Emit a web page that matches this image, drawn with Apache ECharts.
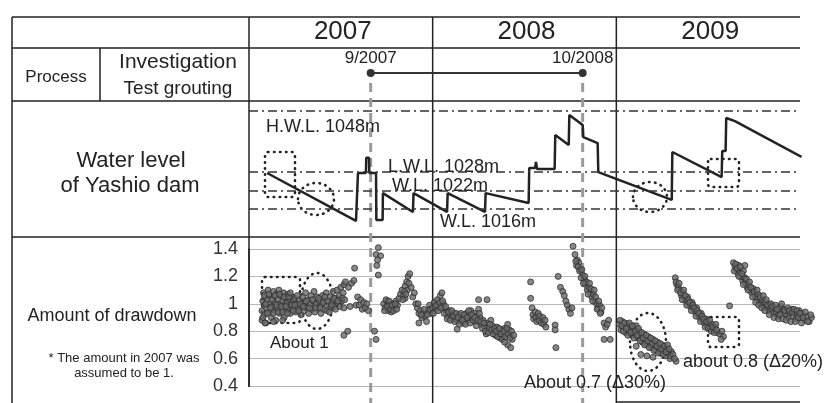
<!DOCTYPE html>
<html><head><meta charset="utf-8">
<script src="https://cdn.jsdelivr.net/npm/echarts@6/dist/echarts.min.js"></script>
<style>html,body{margin:0;padding:0;background:#fff}#c{width:833px;height:403px}</style>
</head><body><div id="c"></div>
<script>
// ---- data ----
const years = ['2007', '2008', '2009'];
const yearStartMonths = [0, 12, 24, 36];           // months since Jan 2007
const processMonths = [7.95, 21.8];                 // 9/2007 and 10/2008
const processLabels = ['9/2007', '10/2008'];
const refLevels = [1048, 1028, 1022, 1016];
const refLabels = ['H.W.L. 1048m', 'L.W.L. 1028m', 'W.L. 1022m', 'W.L. 1016m'];
const ddTicks = ['0.4', '0.6', '0.8', '1', '1.2', '1.4'];

// water level of Yashio dam [month, m]
const waterLevel = [[1.18,1027.7],[6.99,1012.2],[7.12,1027.7],[7.64,1027.7],[7.66,1032.6],[7.84,1032.6],[7.86,1027.7],[8.3,1027.7],[8.32,1012.5],[8.73,1012.5],[8.75,1021.2],[10.71,1015.1],[10.75,1021.2],[12.94,1015.1],[12.98,1021.2],[15.42,1015.1],[15.46,1021.2],[18.27,1018.0],[18.31,1029.3],[18.69,1029.3],[18.75,1031.3],[18.82,1029.0],[19.97,1029.0],[20.01,1040.0],[20.89,1036.8],[20.93,1046.5],[21.8,1043.2],[21.84,1039.3],[22.78,1037.4],[22.82,1028.0],[27.62,1019.0],[27.66,1034.5],[30.88,1026.4],[30.92,1034.8],[31.14,1034.8],[31.18,1045.5],[31.75,1044.5],[36.1,1032.9]];

// amount of drawdown [month, ratio]
const dd2007a = [[0.85,0.88],[0.85,0.95],[0.9,1.02],[0.95,1.08],[1.0,0.92],[1.0,0.99],[1.05,1.05],[1.1,0.86],[1.15,0.97],[1.2,1.03],[1.25,1.1],[1.3,0.94],[1.35,1.0],[1.4,1.06],[1.45,0.9],[1.5,0.98],[1.55,1.04],[1.6,1.09],[1.65,0.95],[1.7,1.01],[1.75,0.88],[1.8,1.07],[1.85,0.97],[1.9,1.03],[1.95,1.1],[2.0,0.93],[2.05,1.0],[2.1,1.06],[2.15,0.96],[2.2,1.02],[2.25,1.08],[2.3,0.9],[2.35,0.99],[2.4,1.04],[2.45,0.95],[2.5,1.01],[2.55,1.07],[2.6,0.97],[2.65,1.03],[2.7,0.93],[2.75,1.0],[2.8,1.05],[2.85,0.96],[2.9,1.02],[2.95,0.98],[3.0,1.04],[3.05,0.94],[3.1,1.0],[3.2,0.97],[3.3,1.03],[3.4,0.92],[3.45,0.99],[3.5,1.05],[3.6,0.95],[3.65,1.01],[3.7,1.08],[3.8,0.97],[3.85,1.03],[3.9,0.93],[4.0,1.0],[4.05,1.06],[4.1,0.96],[4.2,1.02],[4.25,1.09],[4.3,0.94],[4.4,1.0],[4.45,1.05],[4.5,0.97],[4.6,1.02],[4.7,0.93],[4.75,0.99],[4.8,1.06],[4.9,0.96],[5.0,1.02],[5.05,1.08],[5.1,0.95],[5.2,1.0],[5.3,1.05],[5.35,0.97],[5.45,1.02],[5.5,1.09],[5.6,0.98],[5.7,1.04],[5.75,1.1],[5.85,1.0],[5.9,1.06],[6.0,1.12],[6.05,1.02],[6.15,1.08],[6.2,1.14],[6.3,1.16],
  [0.9,0.9],[1.0,1.06],[1.1,1.0],[1.2,0.93],[1.3,1.07],[1.4,0.97],[1.5,1.03],[1.6,0.93],[1.7,1.06],[1.8,0.99],[1.9,0.94],[2.0,1.07],[2.1,0.98],[2.2,0.94],[2.3,1.05],[2.4,0.98],[2.5,0.93],[2.6,1.05],[2.7,1.08],[2.8,0.99],[2.9,0.95],[3.0,0.99],[3.15,1.06],[3.25,0.95],[3.35,1.0],[3.55,0.98],[3.75,1.02],[3.95,0.97],[4.15,1.03],[4.35,0.97],[4.55,1.04],[4.65,0.97],[4.85,1.01],[4.95,1.05],[5.15,1.02],[5.25,0.94],[5.4,0.99],[5.55,1.04],[5.65,0.96],[5.8,1.02],[5.95,0.98],[6.1,1.04],[6.25,1.03],[1.05,0.86],[1.6,0.87],[2.2,0.88]];
const dd2007b = [[6.2,0.97],[6.6,0.98],[7.0,0.99],[6.9,1.26],[6.2,0.77],[6.45,0.8],[6.5,1.12],[6.7,1.15],[6.85,1.17],[7.1,1.05],[7.2,0.99],[7.3,1.03],[7.4,0.96],[7.5,1.01],[7.6,0.97],[7.7,1.0],[7.8,0.95],[8.45,1.41],[8.3,1.36],[8.6,1.35],[8.4,1.32],[8.35,1.28],[8.45,1.21],[8.2,0.8],[8.3,0.74],[8.8,1.0],[8.9,0.97],[9.0,1.02],[9.1,0.95],[9.2,0.99],[9.3,0.94],[9.4,1.0],[9.5,0.97],[9.6,1.02],[9.7,0.99],[9.8,1.04],[9.9,1.07],[10.0,1.1],[10.1,1.06],[10.2,1.13],[10.3,1.16],[10.4,1.2],[10.5,1.22],[10.35,1.1],[10.2,1.04],[10.6,1.12],[10.7,1.05],[10.8,1.08],[10.9,1.0],[11.0,0.97],[11.1,0.93],[11.2,0.95],[11.3,0.9],[11.4,0.93],[11.5,0.91],[11.1,0.86],[11.6,0.87],[11.7,0.95],[11.8,0.99],[11.9,0.93],
  [8.85,0.95],[8.95,1.03],[9.05,0.98],[9.15,1.02],[9.25,0.96],[9.35,0.99],[9.45,0.95],[9.55,1.0],[9.65,0.96],[10.05,1.03],[10.15,1.09],[10.25,1.07],[10.45,1.15],[11.05,1.0],[11.25,0.92],[11.45,0.96],[11.65,0.92],[11.85,0.96]];
const dd2008a = [[12.0,0.97],[12.1,1.01],[12.2,0.96],[12.3,1.03],[12.4,0.98],[12.5,1.06],[12.6,1.08],[12.7,1.0],[12.8,0.96],[12.9,0.94],[13.0,0.91],[13.1,0.95],[13.2,0.92],[13.3,0.89],[13.4,0.93],[13.5,0.9],[13.6,0.88],[13.7,0.92],[13.8,0.87],[13.9,0.9],[14.0,0.86],[14.1,0.89],[14.2,0.93],[14.3,0.88],[14.4,0.91],[13.6,0.815],[15.0,1.03],[15.55,1.03],[14.5,0.95],[14.6,0.9],[14.7,0.93],[14.8,0.87],[14.9,0.91],[15.0,0.96],[15.1,0.9],[15.2,0.85],[15.3,0.88],[15.4,0.83],[15.5,0.78],[15.6,0.86],[15.7,0.82],[15.8,0.88],[15.9,0.84],[16.0,0.8],[16.1,0.77],[16.2,0.83],[16.3,0.79],[16.4,0.75],[16.5,0.81],[16.6,0.77],[16.7,0.82],[16.8,0.79],[16.9,0.85],[17.0,0.81],[17.1,0.77],[17.2,0.74],
  [12.05,0.93],[12.15,0.98],[12.25,0.99],[12.35,0.95],[12.45,1.01],[12.55,0.97],[12.65,1.02],[12.75,0.93],[12.85,0.98],[12.95,0.89],[13.05,0.94],[13.15,0.88],[13.25,0.95],[13.35,0.91],[13.45,0.87],[13.55,0.93],[13.65,0.9],[13.75,0.85],[13.85,0.93],[13.95,0.88],[14.05,0.92],[14.15,0.85],[14.25,0.9],[14.35,0.95],[14.45,0.86],[14.55,0.92],[14.65,0.88],[14.75,0.9],[14.85,0.84],[14.95,0.88],[15.05,0.93],[15.15,0.87],[15.25,0.82],[15.35,0.86],[15.45,0.8],[15.65,0.79],[15.75,0.85],[15.85,0.81],[15.95,0.78],[16.05,0.82],[16.15,0.8],[16.25,0.76],[16.35,0.82],[16.45,0.78],[16.55,0.74],[16.65,0.8],[16.75,0.76],[16.85,0.82],[16.95,0.78],[17.05,0.75],[17.15,0.8],[16.9,0.7],[17.1,0.68],[16.7,0.72],[17.3,0.77]];
const dd2008b = [[18.4,1.16],[18.4,1.04],[18.5,0.97],[18.55,0.92],[18.6,0.89],[18.7,0.94],[18.75,0.9],[18.8,0.87],[18.9,0.93],[18.95,0.88],[19.0,0.91],[19.1,0.86],[19.2,0.9],[19.25,0.85],[19.35,0.88],[19.4,0.83],[20.0,0.845],[20.0,0.81],[20.05,0.68],[20.2,1.2],[20.35,1.12],[20.5,1.09],[20.6,1.06],[20.7,1.02],[20.8,0.99],[20.9,0.96],[21.0,0.93],[21.1,0.97],[21.17,1.42],[21.3,1.36],[21.45,1.32],[21.55,1.3],[21.65,1.25],[21.8,1.21],[21.9,1.18],[22.0,1.14],[22.1,1.1],[22.2,1.12],[22.3,1.08],[22.4,1.05],[22.5,1.07],[22.6,1.02],[22.7,1.0],[22.8,0.97],[22.9,0.99],[23.0,0.94],[21.4,1.28],[21.7,1.19],[22.05,1.16],[22.35,1.11],[23.2,0.86],[23.3,0.83],[23.5,0.88],[23.4,0.85],[23.2,0.74],[23.6,0.74],
  [21.35,1.31],[21.5,1.27],[21.6,1.24],[21.75,1.25],[21.85,1.15],[21.95,1.2],[22.15,1.07],[22.25,1.15],[22.45,1.02],[22.55,1.1],[22.65,1.05],[22.75,0.96],[22.85,1.02],[22.95,0.93],[23.05,0.97]];
const dd2009a = [[24.2,0.85],[24.3,0.81],[24.4,0.87],[24.5,0.83],[24.6,0.79],[24.7,0.85],[24.8,0.8],[24.9,0.83],[25.0,0.77],[25.1,0.82],[25.2,0.78],[25.3,0.84],[25.4,0.75],[25.5,0.8],[25.6,0.77],[25.7,0.72],[25.8,0.78],[25.9,0.74],[26.0,0.7],[26.1,0.76],[26.2,0.72],[26.3,0.68],[26.4,0.74],[26.5,0.7],[26.6,0.66],[26.7,0.72],[26.8,0.68],[26.9,0.64],[27.0,0.7],[27.1,0.66],[27.2,0.62],[27.3,0.67],[27.4,0.64],[27.5,0.6],[27.6,0.65],[27.9,0.58],[25.3,0.69],[25.6,0.63],[26.0,0.62],[26.4,0.61],
  [24.25,0.88],[24.35,0.84],[24.45,0.8],[24.55,0.86],[24.65,0.82],[24.75,0.77],[24.85,0.86],[24.95,0.79],[25.05,0.84],[25.15,0.75],[25.25,0.8],[25.35,0.77],[25.45,0.82],[25.55,0.73],[25.65,0.79],[25.75,0.75],[25.85,0.7],[25.95,0.77],[26.05,0.73],[26.15,0.68],[26.25,0.75],[26.35,0.71],[26.45,0.66],[26.55,0.73],[26.65,0.69],[26.75,0.64],[26.85,0.71],[26.95,0.67],[27.05,0.63],[27.15,0.69],[27.25,0.65],[27.35,0.7],[27.45,0.67],[27.55,0.62],[27.7,0.63],[27.8,0.6]];
const dd2009b = [[27.85,1.19],[27.95,1.14],[28.05,1.12],[28.15,1.1],[28.25,1.06],[28.35,1.08],[28.45,1.04],[28.55,1.02],[28.65,1.05],[28.75,1.0],[28.85,0.98],[28.95,1.01],[29.05,0.96],[29.15,0.94],[29.25,0.97],[29.35,0.92],[29.45,0.9],[29.55,0.93],[29.65,0.88],[29.75,0.86],[29.85,0.89],[29.95,0.84],[30.05,0.86],[30.15,0.82],[30.25,0.85],[30.35,0.81],[30.45,0.83],[30.6,0.79],[30.75,0.78],[30.9,0.8],[31.0,0.76],[30.85,0.74],[31.4,0.985],
  [27.9,1.16],[28.0,1.1],[28.1,1.15],[28.2,1.08],[28.3,1.03],[28.4,1.1],[28.5,1.06],[28.6,0.99],[28.7,1.03],[28.8,1.01],[28.9,0.95],[29.0,0.99],[29.1,0.97],[29.2,0.91],[29.3,0.95],[29.4,0.93],[29.5,0.87],[29.6,0.91],[29.7,0.89],[29.8,0.83],[29.9,0.87],[30.0,0.82],[30.1,0.88],[30.2,0.8],[30.3,0.83],[30.4,0.79],[30.5,0.85],[30.55,0.81]];
const dd2009c = [[31.65,1.3],[31.75,1.27],[31.85,1.25],[31.95,1.22],[32.05,1.24],[32.15,1.2],[32.25,1.17],[32.35,1.19],[32.45,1.15],[32.55,1.12],[32.65,1.14],[32.75,1.1],[32.85,1.08],[32.95,1.11],[33.05,1.06],[33.15,1.04],[33.25,1.07],[33.35,1.02],[33.45,1.0],[33.55,1.03],[33.65,0.98],[33.75,1.01],[33.85,0.97],[33.95,0.95],[34.05,0.99],[34.15,0.96],[34.25,0.93],[34.35,0.97],[34.45,0.94],[34.55,0.91],[34.65,0.95],[34.75,0.98],[34.85,0.93],[34.95,0.96],[35.05,0.92],[35.15,0.95],[35.25,0.9],[35.35,0.93],[35.45,0.96],[35.55,0.91],[35.65,0.94],[35.75,0.89],[35.85,0.92],[35.95,0.95],[36.05,0.9],[36.15,0.93],[36.3,0.88],[36.45,0.91],[36.6,0.87],[36.75,0.9],[32.0,1.28],[32.3,1.24],[32.4,1.28],[32.4,1.19],
  [31.7,1.24],[31.8,1.29],[31.9,1.26],[32.0,1.2],[32.1,1.27],[32.2,1.22],[32.3,1.14],[32.5,1.18],[32.6,1.1],[32.7,1.16],[32.8,1.12],[32.9,1.05],[33.0,1.09],[33.1,1.01],[33.2,1.1],[33.3,0.99],[33.4,1.05],[33.5,0.97],[33.6,1.06],[33.7,0.95],[33.8,1.03],[33.9,0.99],[34.0,0.92],[34.1,1.0],[34.2,0.98],[34.3,0.9],[34.4,0.99],[34.5,0.96],[34.6,0.89],[34.7,0.92],[34.8,1.0],[34.9,0.89],[35.0,0.95],[35.1,0.88],[35.2,0.97],[35.3,0.95],[35.4,0.87],[35.5,0.94],[35.6,0.96],[35.7,0.87],[35.8,0.95],[35.9,0.9],[36.0,0.93],[36.1,0.86],[36.2,0.9],[36.35,0.94],[36.5,0.87],[36.7,0.92]];

// ---- chart ----
const FONT = '"Liberation Sans", Arial, sans-serif';
const INK = '#222';
const chart = echarts.init(document.getElementById('c'), null, {renderer: 'canvas'});
const GL = 249, GW = 551;
const hiddenX = i => ({type: 'value', gridIndex: i, min: 0, max: 36, show: false, splitLine: {show: false}});
const scatterStyle = {color: '#6a6a6a', borderColor: '#2e2e2e', borderWidth: 1};
const ddSeries = [dd2007a, dd2007b, dd2008a, dd2008b, dd2009a, dd2009b, dd2009c].map(d => ({
  type: 'scatter', xAxisIndex: 2, yAxisIndex: 2, data: d, symbolSize: 6, clip: false,
  itemStyle: scatterStyle, z: 3
}));

chart.setOption({
  animation: false,
  backgroundColor: '#fff',
  textStyle: {fontFamily: FONT},
  grid: [
    {left: GL, width: GW, top: 48, height: 53},
    {left: GL, width: GW, top: 101, height: 136},
    {left: GL, width: GW, top: 249, height: 137}
  ],
  xAxis: [hiddenX(0), hiddenX(1), hiddenX(2)],
  yAxis: [
    {type: 'value', gridIndex: 0, min: 0, max: 1, show: false},
    {type: 'value', gridIndex: 1, min: 1007, max: 1051, show: false},
    {type: 'value', gridIndex: 2, min: 0.4, max: 1.4, interval: 0.2,
      axisLine: {show: true, lineStyle: {color: INK, width: 1.5}},
      axisTick: {show: false},
      axisLabel: {fontSize: 18, color: '#333', margin: 11, fontFamily: FONT,
        formatter: (v) => ddTicks[Math.round((v - 0.4) / 0.2)]},
      splitLine: {lineStyle: {color: '#b8b8b8', width: 1}}}
  ],
  series: [
    {type: 'line', xAxisIndex: 0, yAxisIndex: 0,
      data: processMonths.map(m => [m, 0.53]),
      symbol: 'circle', symbolSize: 8, itemStyle: {color: '#333'},
      lineStyle: {color: '#333', width: 2},
      label: {show: true, position: 'top', distance: 2, fontSize: 17, color: '#222', fontFamily: FONT,
        formatter: p => processLabels[p.dataIndex]}},
    {type: 'line', xAxisIndex: 1, yAxisIndex: 1, data: waterLevel, symbol: 'none', clip: false,
      lineStyle: {color: INK, width: 2.5}, z: 3,
      markLine: {silent: true, symbol: 'none', label: {show: false},
        lineStyle: {color: '#333', width: 1.5, type: [9, 4, 2, 4]},
        data: refLevels.map(v => ({yAxis: v}))}},
    ...ddSeries
  ]
});

// decorations computed through the axes
const px = m => chart.convertToPixel({xAxisIndex: 2}, m);
const line = (x1, y1, x2, y2, style) => ({type: 'line', shape: {x1, y1, x2, y2}, style: Object.assign({stroke: INK, lineWidth: 1.5}, style || {}), silent: true});
const text = (t, x, y, size, align, extra) => ({type: 'text', x, y, style: Object.assign({text: t, font: size + 'px ' + FONT, fill: '#222', textAlign: align || 'left', textVerticalAlign: 'middle'}, extra || {}), silent: true});
const dotted = {stroke: '#222', lineWidth: 2.6, lineDash: [0.5, 5.5], lineCap: 'round', fill: null};

const xs = yearStartMonths.map(px);
const g = [];
// table frame
g.push(line(12, 17, 800, 17));
g.push(line(12, 48, 800, 48));
g.push(line(12, 101, 800, 101));
g.push(line(12, 237, 800, 237));
g.push(line(xs[2], 402, 800, 402));
g.push(line(12, 17, 12, 403));
g.push(line(100, 48, 100, 101));
g.push(line(xs[0], 17, xs[0], 387));
g.push(line(xs[1], 17, xs[1], 403));
g.push(line(xs[2], 17, xs[2], 403));
// years
years.forEach((y, i) => g.push(text(y, (xs[i] + xs[i + 1]) / 2 + 2, 32, 26, 'center')));
// process dashed lines
processMonths.forEach(m => { const x = px(m); g.push(line(x, 83, x, 403, {stroke: '#9a9a9a', lineWidth: 3, lineDash: [9, 6]})); });
// left column texts
g.push(text('Process', 56, 77, 17, 'center'));
g.push(text('Investigation', 178, 62, 21, 'center'));
g.push(text('Test grouting', 178, 89, 19, 'center'));
g.push(text('Water level', 131, 161, 22, 'center'));
g.push(text('of Yashio dam', 130, 186, 22, 'center'));
g.push(text('Amount of drawdown', 112, 316, 18, 'center'));
g.push(text('* The amount in 2007 was', 124, 358, 13, 'center'));
g.push(text('assumed to be 1.', 124, 373, 13, 'center'));
// reference level labels
g.push(text(refLabels[0], 266, 127, 18));
g.push(text(refLabels[1], 388, 167, 18));
g.push(text(refLabels[2], 392, 186, 18));
g.push(text(refLabels[3], 440, 222, 18));
// drawdown annotations
g.push(text('About 1', 270, 343, 17));
g.push(text('About 0.7 (\u039430%)', 524, 383, 18));
g.push(text('about 0.8 (\u039420%)', 683, 362, 18));
// dotted marks
g.push({type: 'rect', shape: {x: 265, y: 152, width: 30, height: 45, r: 3}, style: dotted, silent: true});
g.push({type: 'ellipse', shape: {cx: 316, cy: 199, rx: 18, ry: 16}, style: dotted, silent: true});
g.push({type: 'ellipse', shape: {cx: 650, cy: 197, rx: 17, ry: 15}, style: dotted, silent: true});
g.push({type: 'rect', shape: {x: 708, y: 159, width: 31, height: 28, r: 3}, style: dotted, silent: true});
g.push({type: 'rect', shape: {x: 262, y: 277, width: 38, height: 46, r: 3}, style: dotted, silent: true});
g.push({type: 'ellipse', shape: {cx: 317, cy: 301, rx: 16, ry: 28}, style: dotted, silent: true});
g.push({type: 'ellipse', shape: {cx: 648, cy: 342, rx: 18, ry: 29}, style: dotted, silent: true});
g.push({type: 'rect', shape: {x: 708, y: 317, width: 31, height: 30, r: 3}, style: dotted, silent: true});

chart.setOption({graphic: g});
</script>
</body></html>
